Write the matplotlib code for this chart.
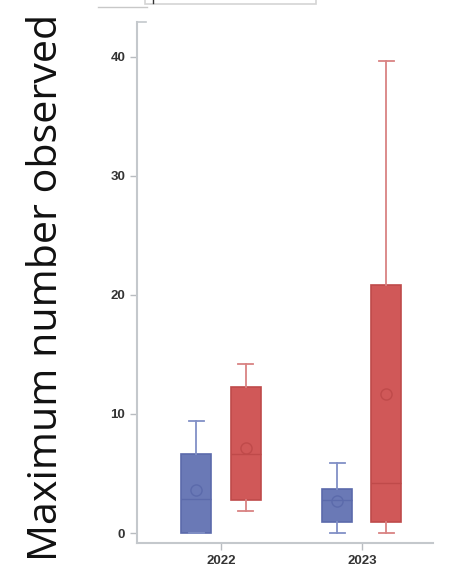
import numpy as np
import matplotlib.pyplot as plt
from matplotlib.patches import Rectangle
from matplotlib.lines import Line2D

# --- data ---------------------------------------------------------------
years = ["2022", "2023"]
groups = ["blue", "red"]

# summary statistics per (year, group)
whisker_lo = {"blue": [0.0, 0.0], "red": [1.85, 0.0]}
q1 = {"blue": [0.0, 0.92], "red": [2.77, 0.92]}
median = {"blue": [2.85, 2.8], "red": [6.6, 4.23]}
q3 = {"blue": [6.6, 3.72], "red": [12.3, 20.8]}
whisker_hi = {"blue": [9.45, 5.86], "red": [14.2, 39.7]}
mean = {"blue": [3.6, 2.66], "red": [7.14, 11.65]}

yticks = [0, 10, 20, 30, 40]

fill = {"blue": "#6a79b6", "red": "#d05858"}
edge = {"blue": "#5b6aab", "red": "#bf4a4a"}
whisk = {"blue": "#8190c6", "red": "#d98282"}

# --- figure -------------------------------------------------------------
fig = plt.figure(figsize=(4.49, 5.70), dpi=100)
ax = fig.add_axes([137 / 449, 27 / 570, 296 / 449, 521 / 570])

offsets = {"blue": -0.174, "red": 0.174}
for g in groups:
    stats = []
    for i in range(len(years)):
        stats.append(dict(
            whislo=whisker_lo[g][i], q1=q1[g][i], med=median[g][i],
            q3=q3[g][i], whishi=whisker_hi[g][i], mean=mean[g][i],
            fliers=[],
        ))
    pos = np.arange(len(years)) + offsets[g]
    ax.bxp(
        stats, positions=pos, widths=0.213, patch_artist=True,
        showmeans=True, showfliers=False,
        boxprops=dict(facecolor=fill[g], edgecolor=edge[g], linewidth=1.2),
        medianprops=dict(color=edge[g], linewidth=1.0),
        whiskerprops=dict(color=whisk[g], linewidth=1.3),
        capprops=dict(color=whisk[g], linewidth=1.3),
        capwidths=0.11,
        meanprops=dict(marker="o", markerfacecolor="none",
                       markeredgecolor=edge[g], markersize=8,
                       markeredgewidth=1.0),
    )

ax.set_xlim(-0.596, 1.504)
ax.set_ylim(-0.84, 42.94)
ax.set_xticks(range(len(years)))
ax.set_xticklabels(years)
ax.set_yticks(yticks)

for s in ["top", "right"]:
    ax.spines[s].set_visible(False)
for s in ["left", "bottom"]:
    ax.spines[s].set_color("#c4c8cc")
    ax.spines[s].set_linewidth(1.5)

ax.tick_params(axis="both", colors="#b8bcc0", length=5, width=1.0,
               labelcolor="#333333", labelsize=9.5)
for lbl in ax.get_xticklabels() + ax.get_yticklabels():
    lbl.set_fontweight("bold")
    lbl.set_family("Liberation Sans")

fig.text(0.104, 0.496, "Maximum number observed", rotation=90,
         ha="center", va="center", fontsize=29.7, family="Open Sans",
         color="#111111")

# top cut-off pieces: frame corner and partial legend box
fig.add_artist(Line2D([137 / 449, 146 / 449], [548 / 570, 548 / 570],
                      color="#c4c8cc", lw=1.2))
fig.add_artist(Line2D([98 / 449, 147 / 449], [563 / 570, 563 / 570],
                      color="#c8c8c8", lw=1.0))
fig.add_artist(Rectangle((145 / 449, 566 / 570), 171 / 449, 10 / 570,
                         facecolor="white", edgecolor="#d4d4d4", lw=1.2))
fig.add_artist(Line2D([153 / 449, 153 / 449], [567 / 570, 570 / 570],
                      color="#333333", lw=1.0))

fig.savefig("out.png", dpi=100)
